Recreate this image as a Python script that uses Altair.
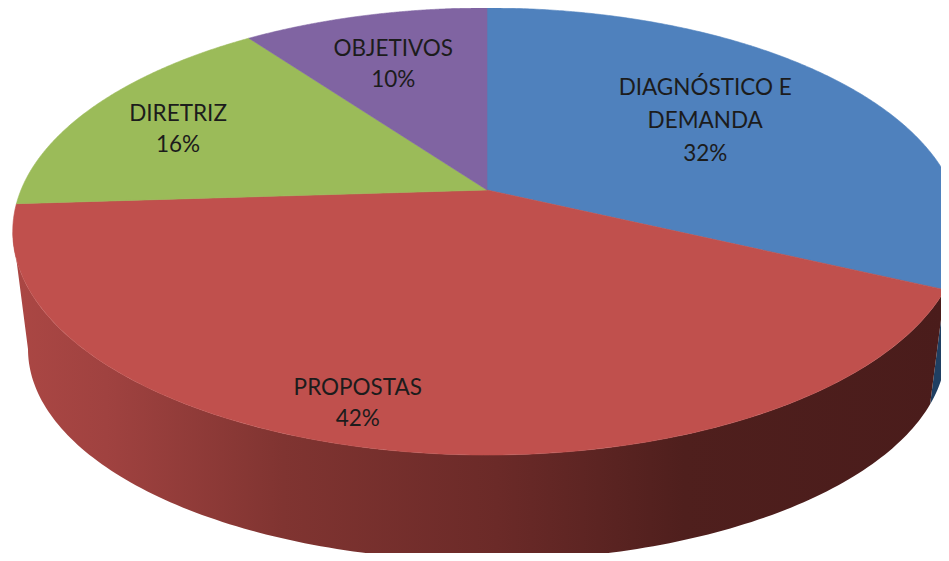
import numpy as np
import pandas as pd
import altair as alt

categories = ["DIAGNÓSTICO E DEMANDA", "PROPOSTAS", "DIRETRIZ", "OBJETIVOS"]
shares = [32, 42, 16, 10]
label_lines = ["DIAGNÓSTICO E\nDEMANDA\n32%", "PROPOSTAS\n42%", "DIRETRIZ\n16%", "OBJETIVOS\n10%"]
colors = ["#4f81bd", "#c0504d", "#9bbb59", "#8064a2"]

# placement of the labels, as radius and angular nudge on the disc
label_radius = [0.606, 0.866, 0.763, 0.693]
label_turn = [-2.3, 4.9, -1.8, -1.0]
label_line_height = [33, 31, 31, 31]

# perspective view of the disc: top face and lower face
K = 0.1857
TOP = dict(cx=487.0, cy=190.0, a=215.8, b=466.0)
LOW = dict(cx=487.0, cy=310.0, a=204.0, b=451.0)
# angles at which the side wall meets the disc's silhouette
RIGHT_TANGENT = np.degrees(np.arccos(-K))
LEFT_TANGENT = 360 - RIGHT_TANGENT


def project(deg, r, v):
    t = np.radians(deg)
    X, Y = r * np.sin(t), -r * np.cos(t)
    d = 1 - K * Y
    return v["cx"] + v["b"] * X / d, v["cy"] + v["a"] * Y / d


def frame(xs, ys):
    return pd.DataFrame({"x": xs, "y": ys, "i": np.arange(len(xs))})


edges = np.concatenate([[0], np.cumsum(shares)]) * 3.6
x_s = alt.X("x:Q", scale=alt.Scale(domain=[8, 941]), axis=None)
y_s = alt.Y("y:Q", scale=alt.Scale(domain=[553, 8]), axis=None)


def polygon(df, fill, stroke=None):
    kw = dict(stroke=stroke, strokeWidth=0.6) if stroke else dict(strokeWidth=0)
    return alt.Chart(df).mark_line(fill=fill, clip=True, **kw).encode(x=x_s, y=y_s, order="i:Q")


def wall(a0, a1):
    th = np.linspace(a0, a1, 160)
    xt, yt = project(th, 1, TOP)
    xl, yl = project(th[::-1], 1, LOW)
    return frame(np.r_[xt, xl, xt[0]], np.r_[yt, yl, yt[0]])


def face(a0, a1):
    th = np.linspace(a0, a1, 240)
    xt, yt = project(th, 1, TOP)
    return frame(np.r_[TOP["cx"], xt, TOP["cx"]], np.r_[TOP["cy"], yt, TOP["cy"]])


red_side = alt.Gradient(
    gradient="linear", x1=0, x2=1, y1=0, y2=0,
    stops=[
        alt.GradientStop(offset=0.0, color="#ab4744"),
        alt.GradientStop(offset=0.10, color="#a04240"),
        alt.GradientStop(offset=0.29, color="#803431"),
        alt.GradientStop(offset=0.52, color="#6b2a28"),
        alt.GradientStop(offset=0.72, color="#4f1f1d"),
        alt.GradientStop(offset=1.0, color="#4a1c1b"),
    ],
)

layers = [
    polygon(wall(RIGHT_TANGENT, edges[1]), "#1f3f62"),
    polygon(wall(edges[1], LEFT_TANGENT), red_side),
]
for k in range(len(shares)):
    layers.append(polygon(face(edges[k], edges[k + 1]), colors[k], colors[k]))

for k, text in enumerate(label_lines):
    mid = (edges[k] + edges[k + 1]) / 2 + label_turn[k]
    lx, ly = project(mid, label_radius[k], TOP)
    first_line = ly - text.count("\n") * label_line_height[k] / 2
    layers.append(
        alt.Chart(pd.DataFrame({"x": [lx], "y": [first_line], "t": [text]}))
        .mark_text(font="Lato", fontSize=22.5, lineBreak="\n", lineHeight=label_line_height[k],
                   align="center", baseline="middle", color="#1c1c1c", dy=1)
        .encode(x=x_s, y=y_s, text="t:N")
    )

chart = (
    alt.layer(*layers)
    .properties(width=933, height=545, padding=0, autosize=alt.AutoSizeParams(type="none"))
    .configure_view(stroke=None)
)
chart.save("out.html", embed_options={"renderer": "svg", "actions": False})
